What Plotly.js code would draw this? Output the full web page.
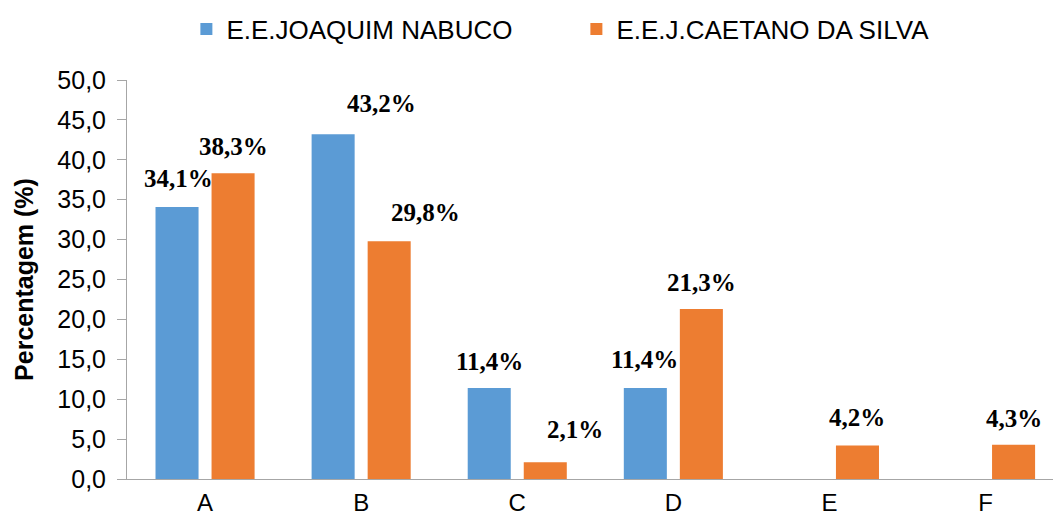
<!DOCTYPE html>
<html>
<head>
<meta charset="utf-8">
<script src="https://cdn.plot.ly/plotly-3.0.1.min.js"></script>
<style>
html,body{margin:0;padding:0;background:#fff;overflow:hidden;}
#chart{width:1053px;height:517px;}
</style>
</head>
<body>
<div id="chart"></div>
<script>
const categories = ['A', 'B', 'C', 'D', 'E', 'F'];
const seriesNames = ['E.E.JOAQUIM NABUCO', 'E.E.J.CAETANO DA SILVA'];
const joaquimValues = [34.1, 43.2, 11.4, 11.4, 0, 0];
const caetanoValues = [38.3, 29.8, 2.1, 21.3, 4.2, 4.3];
const yTickValues = [0, 5, 10, 15, 20, 25, 30, 35, 40, 45, 50];

// label placement tweaks (pixels), mimicking manually placed labels
const joaquimLabelDx = [1, 48, 0, -1, 0, 0];
const joaquimLabelDy = [1, 3, -1, 1, 0, 0];
const caetanoLabelDx = [0, 36, 30, 0, 0, 0];
const caetanoLabelDy = [-1, 1, 5, -1, 0, -1];

const colors = ['#5B9BD5', '#ED7D31'];
const fmt = v => v.toFixed(1).replace('.', ',') + '%';

const traces = [
  {type: 'bar', name: seriesNames[0], x: categories, y: joaquimValues,
   marker: {color: colors[0], line: {width: 0}}, hoverinfo: 'none'},
  {type: 'bar', name: seriesNames[1], x: categories, y: caetanoValues,
   marker: {color: colors[1], line: {width: 0}}, hoverinfo: 'none'}
];

const slotHalf = 28;
const baseShift = 12;
const annotations = [];
function addLabels(vals, dir, dxs, dys) {
  vals.forEach((v, i) => {
    if (!(v > 0)) return;
    annotations.push({
      x: categories[i], y: v, xref: 'x', yref: 'y',
      text: fmt(v), showarrow: false,
      xanchor: 'center', yanchor: 'bottom',
      xshift: dir * slotHalf + dxs[i], yshift: baseShift + dys[i],
      font: {family: 'Liberation Serif, Times New Roman, serif', size: 25, color: '#000', weight: 'bold'}
    });
  });
}
addLabels(joaquimValues, -1, joaquimLabelDx, joaquimLabelDy);
addLabels(caetanoValues, 1, caetanoLabelDx, caetanoLabelDy);

const layout = {
  width: 1053, height: 517,
  margin: {l: 127, r: 0, t: 80, b: 38, autoexpand: false},
  paper_bgcolor: '#fff', plot_bgcolor: '#fff',
  barmode: 'group', bargap: 0.282, bargroupgap: 0.232,
  separators: ',.',
  showlegend: true,
  legend: {
    orientation: 'h', xref: 'container', yref: 'container',
    x: 0.177, y: 1 - 29 / 517, xanchor: 'left', yanchor: 'middle',
    font: {family: 'Liberation Sans, Arial, sans-serif', size: 26, color: '#000'},
    entrywidth: 345, bgcolor: 'rgba(0,0,0,0)'
  },
  xaxis: {
    type: 'category', range: [-0.5, -0.5 + 926 / 156.1],
    showline: true, linecolor: '#A6A6A6', linewidth: 1,
    ticks: '', showgrid: false, zeroline: false,
    tickfont: {family: 'Liberation Sans, Arial, sans-serif', size: 24, color: '#000'},
    ticklabelstandoff: 2, fixedrange: true
  },
  yaxis: {
    range: [0, 50], tickvals: yTickValues, tickformat: '.1f',
    showline: true, linecolor: '#A6A6A6', linewidth: 1,
    ticks: 'outside', ticklen: 9, tickcolor: '#A6A6A6',
    showgrid: false, zeroline: false,
    tickfont: {family: 'Liberation Sans, Arial, sans-serif', size: 25, color: '#000'},
    ticklabelstandoff: 6,
    title: {text: 'Percentagem (%)', standoff: 16,
            font: {family: 'Liberation Sans, Arial, sans-serif', size: 25, color: '#000', weight: 'bold'}},
    fixedrange: true
  },
  annotations: annotations
};

Plotly.newPlot('chart', traces, layout, {staticPlot: true, displayModeBar: false});
</script>
</body>
</html>
